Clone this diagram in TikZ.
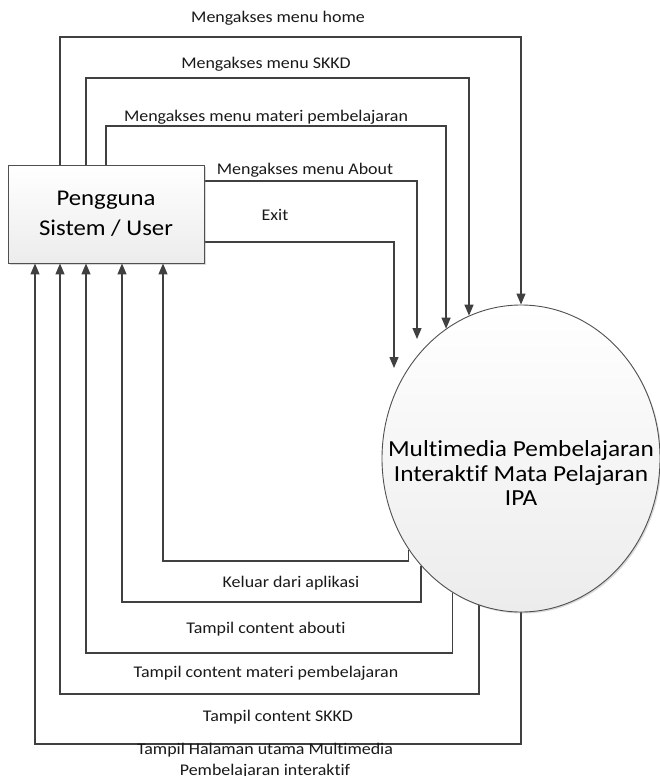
\documentclass[tikz,border=0pt]{standalone}
\usepackage{fontspec}
\setmainfont{Carlito}[FakeStretch=1.1,Ligatures={NoCommon}]
\usetikzlibrary{arrows.meta,shapes.geometric,shadows,backgrounds}
\definecolor{linec}{HTML}{404040}
\definecolor{edgec}{HTML}{505050}
\definecolor{fillbot}{HTML}{ECECEC}
\begin{document}
\begin{tikzpicture}[x=1pt,y=-1pt,
  flow/.style={draw=linec,line width=1.3pt,line join=miter,-{Triangle[length=11pt,width=9pt]}},
  lbl/.style={anchor=base,font=\fontsize{16.3}{20}\selectfont,inner sep=0pt,text=black!90},
  lbltwo/.style={anchor=north,align=center,font=\fontsize{16.3}{21}\selectfont,inner sep=0pt,text=black!90},
  userbox/.style={rectangle,draw=edgec,line width=0.9pt,top color=white,bottom color=fillbot,
    minimum width=196pt,minimum height=98pt,inner sep=0pt,align=center,
    font=\fontsize{22.5}{30}\selectfont,
    drop shadow={shadow xshift=1.5pt,shadow yshift=-1.5pt,opacity=0.3}},
  sysell/.style={ellipse,draw=edgec,line width=0.9pt,top color=white,bottom color=fillbot,
    minimum width=278pt,minimum height=307pt,inner sep=0pt,
    drop shadow={shadow xshift=1.5pt,shadow yshift=-1.5pt,opacity=0.3}},
  systext/.style={align=center,inner sep=0pt,font=\fontsize{23}{24.5}\selectfont}
]
\useasboundingbox (0,0) rectangle (660,776);

\node[userbox] (usr) at (106,214) {Pengguna\\Sistem / User};
\node[sysell] (sys) at (521,458.5) {};
\node[systext] (systxt) at (521,473.5) {Multimedia Pembelajaran\\Interaktif Mata Pelajaran\\IPA};

\coordinate (aboutEnd) at (417,339);
\coordinate (exitEnd) at (394,368);

\begin{pgfonlayer}{background}
% user -> system
\draw[flow] (usr.north -| 60,0) |- (sys.north |- 0,37) -- (sys.north);
\draw[flow] (usr.north -| 86,0) |- (sys.110 |- 0,78) -- (sys.110);
\draw[flow] (usr.north -| 106,0) |- (sys.120.6 |- 0,126) -- (sys.120.6);
\draw[flow] (usr.east |- 0,181) -| (aboutEnd);
\draw[flow] (usr.east |- 0,242) -| (exitEnd);
% system -> user
\draw[flow] (sys.219.8) |- (163,561) -- (usr.south -| 163,0);
\draw[flow] (sys.227.4) |- (122,602) -- (usr.south -| 122,0);
\draw[flow] (sys.243.1) |- (86,653) -- (usr.south -| 86,0);
\draw[flow] (sys.254.8) |- (60,694) -- (usr.south -| 60,0);
\draw[flow] (sys.south) |- (35,744) -- (usr.south -| 35,0);
\end{pgfonlayer}

\node[lbl] (l1) at (278,23) {Mengakses menu home};
\node[lbl] (l2) at (266,68) {Mengakses menu SKKD};
\node[lbl] (l3) at (266,121) {Mengakses menu materi pembelajaran};
\node[lbl] (l4) at (305,174) {Mengakses menu About};
\node[lbl] (l5) at (275,220) {Exit};
\node[lbl] (l6) at (291,587) {Keluar dari aplikasi};
\node[lbl] (l7) at (266,633) {Tampil content abouti};
\node[lbl] (l8) at (266,677) {Tampil content materi pembelajaran};
\node[lbl] (l9) at (278,721) {Tampil content SKKD};
\node[lbltwo] (l10) at (265,742.5) {Tampil Halaman utama Multimedia\\Pembelajaran interaktif};
\end{tikzpicture}
\end{document}
